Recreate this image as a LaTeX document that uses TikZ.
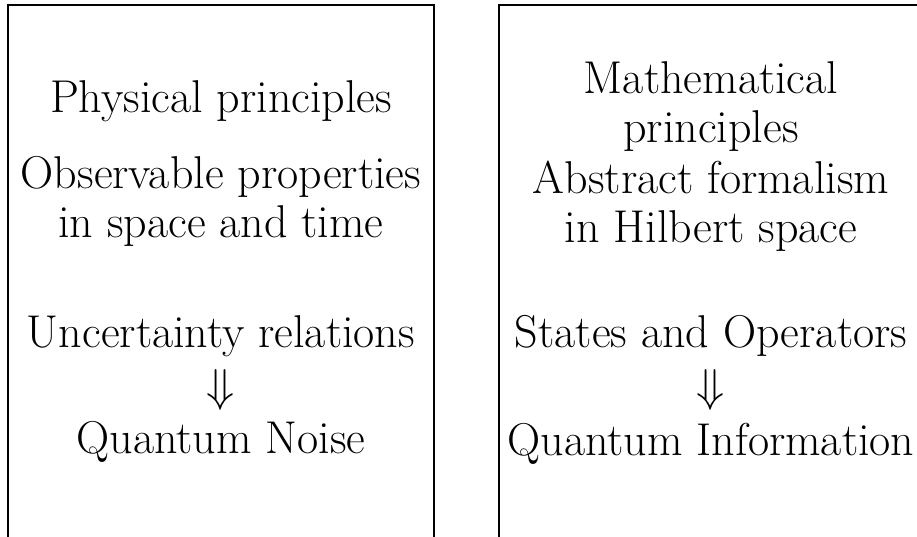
\documentclass[tikz,border=0pt]{standalone}
\begin{document}
\begin{tikzpicture}[x=1pt,y=-1pt,
  txt/.style={anchor=base,inner sep=0pt,font=\fontsize{46}{56}\selectfont},
  arr/.style={anchor=center,inner sep=0pt,font=\fontsize{10}{12}\selectfont},
  frame/.style={line width=2.4pt,line join=miter}]
\useasboundingbox (0,0) rectangle (917,536);
\clip (0,0) rectangle (917,536);
\draw[frame] (8,560) -- (8,5) -- (434,5) -- (434,560);
\draw[frame] (499,560) -- (499,5) -- (940,5) -- (940,560);
% left box
\node[txt] (l1) at (221,112) {Physical principles};
\node[txt] (l2) at (221,188) {Observable properties};
\node[txt] (l3) at (221,237) {in space and time};
\node[txt] (l4) at (221,347) {Uncertainty relations};
\node[arr] (l5) at (221,390) {\scalebox{4.6}{$\Downarrow$}};
\node[txt] (l6) at (221,453) {Quantum Noise};
% right box
\node[txt] (r1) at (711,93) {Mathematical};
\node[txt] (r2) at (711,142) {principles};
\node[txt] (r3) at (711,193) {Abstract formalism};
\node[txt] (r4) at (711,242) {in Hilbert space};
\node[txt] (r5) at (711,347) {States and Operators};
\node[arr] (r6) at (711,390) {\scalebox{4.6}{$\Downarrow$}};
\node[txt] (r7) at (711,455) {Quantum Information};
\end{tikzpicture}
\end{document}
